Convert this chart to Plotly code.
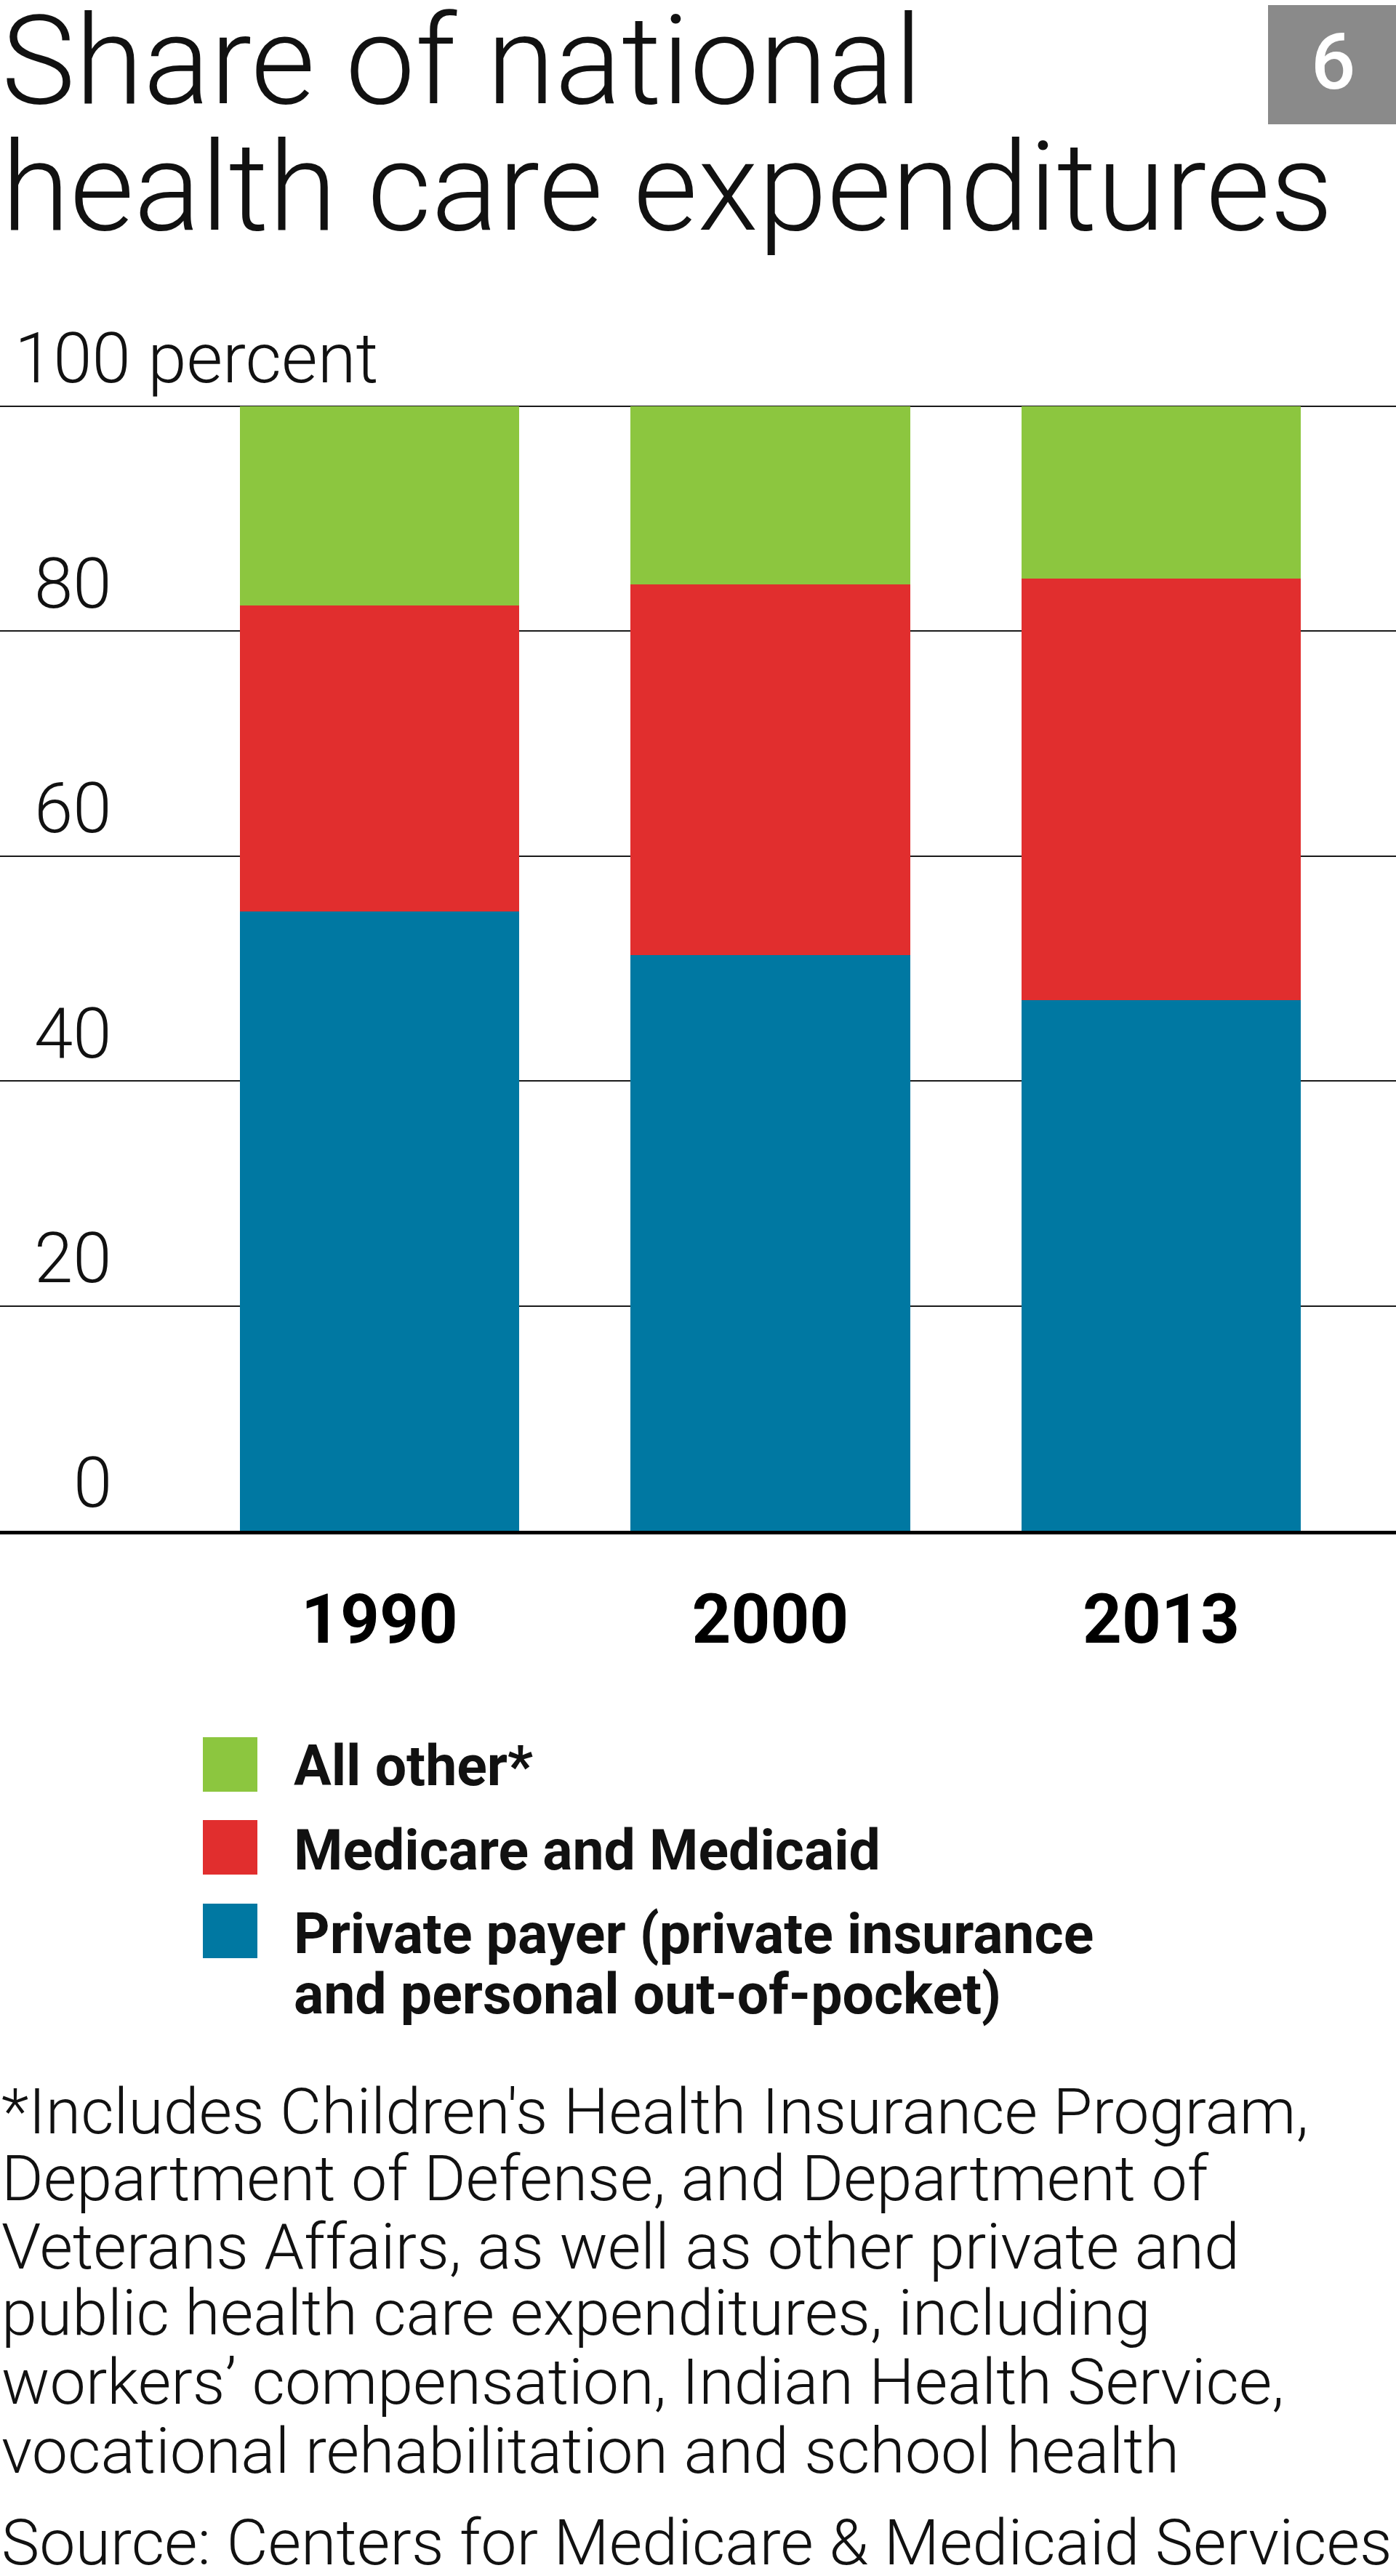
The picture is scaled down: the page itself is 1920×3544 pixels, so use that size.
import plotly.graph_objects as go

W, H = 1920, 3544
FONT = "Roboto"

# ---- data ----
years = ["1990", "2000", "2013"]
series_names = ["Private payer", "Medicare and Medicaid", "All other*"]
private_payer = [55.1, 51.2, 47.2]
medicare_medicaid = [27.2, 33.0, 37.5]
all_other = [17.7, 15.8, 15.3]
series_colors = ["#0078a2", "#e12e2e", "#8cc63f"]

y_tick_vals = [0, 20, 40, 60, 80, 100]
y_tick_text = ["0", "20", "40", "60", "80", "100 percent"]

legend_labels = ["All other*", "Medicare and Medicaid",
                 "Private payer (private insurance<br>and personal out-of-pocket)"]
legend_colors = ["#8cc63f", "#e12e2e", "#0078a2"]

title_lines = ["Share of national", "health care expenditures"]
footnote_lines = [
    "*Includes Children's Health Insurance Program,",
    "Department of Defense, and Department of",
    "Veterans Affairs, as well as other private and",
    "public health care expenditures, including",
    "workers\u2019 compensation, Indian Health Service,",
    "vocational rehabilitation and school health",
]
source_text = "Source: Centers for Medicare & Medicaid Services"
badge_text = "6"


def px_y(p):
    return 1 - p / H


def px_x(p):
    return p / W


fig = go.Figure()
for name, vals, col in zip(series_names, [private_payer, medicare_medicaid, all_other], series_colors):
    fig.add_trace(go.Bar(x=years, y=vals, name=name, marker=dict(color=col, line=dict(width=0)),
                         width=0.716, showlegend=False))

# plot geometry
y_zero_px, y_hundred_px = 2106, 559
unit = (y_zero_px - y_hundred_px) / 100.0
y_top_val = 101
dom_top = px_y(y_zero_px - y_top_val * unit)
dom_bot = px_y(y_zero_px)

annotations = []
shapes = []

# y tick labels
for v, t in zip(y_tick_vals, y_tick_text):
    fs = 96
    if v == 100:
        annotations.append(dict(x=px_x(18), xref="paper", xanchor="left", y=v, yref="y",
                                yanchor="bottom", yshift=32 - 0.244 * fs - 1, text=t, showarrow=False,
                                font=dict(family=FONT, size=fs, color="#111", weight=300)))
    else:
        annotations.append(dict(x=px_x(156), xref="paper", xanchor="right", y=v, yref="y",
                                yanchor="bottom", yshift=32 - 0.244 * fs - 1, text=t, showarrow=False,
                                font=dict(family=FONT, size=fs, color="#111", weight=300)))


def ann_base(text, x, baseline, size, weight=400, color="#111", anchor="left"):
    annotations.append(dict(x=px_x(x), xref="paper", xanchor=anchor,
                            y=px_y(baseline + 0.244 * size + 1), yref="paper", yanchor="bottom",
                            text=text, showarrow=False, align="left",
                            font=dict(family=FONT, size=size, color=color, weight=weight)))


# title
ann_base(title_lines[0], 0, 143.5, 171, weight=300)
ann_base(title_lines[1], 0, 317, 171, weight=300)

# badge
shapes.append(dict(type="rect", xref="paper", yref="paper", x0=px_x(1744), x1=1,
                   y0=px_y(171), y1=px_y(7), fillcolor="#8a8a8a", line=dict(width=0)))
annotations.append(dict(x=px_x(1833), xref="paper", xanchor="center", y=px_y(85), yref="paper",
                        yanchor="middle", text=badge_text, showarrow=False,
                        font=dict(family=FONT, size=108, color="white", weight=500)))

# legend
sw_tops = [2390, 2504, 2619]
legend_baselines = [2457, 2573, 2688]
for lab, col, top, base in zip(legend_labels, legend_colors, sw_tops, legend_baselines):
    shapes.append(dict(type="rect", xref="paper", yref="paper", x0=px_x(279), x1=px_x(354),
                       y0=px_y(top + 75), y1=px_y(top), fillcolor=col, line=dict(width=0)))
    lines = lab.split("<br>")
    for i, ln in enumerate(lines):
        ann_base("<b>" + ln + "</b>", 402, base + i * 83, 77, weight=700)

# footnote
foot_baselines = [2936, 3028, 3122, 3213, 3308, 3403]
for ln, b in zip(footnote_lines, foot_baselines):
    ann_base(ln, 0, b, 88, weight=300)
ann_base(source_text, 0, 3529, 88, weight=300)

fig.update_layout(
    width=W, height=H, margin=dict(l=0, r=0, t=0, b=0),
    paper_bgcolor="white", plot_bgcolor="white",
    barmode="stack", bargap=0,
    showlegend=False,
    annotations=annotations, shapes=shapes,
    xaxis=dict(range=[-0.971, 2.601], showgrid=False, zeroline=False,
               showline=True, linecolor="#000", linewidth=5,
               ticks="", ticklabelstandoff=36,
               tickfont=dict(family=FONT, size=94, color="#000", weight=700),
               fixedrange=True),
    yaxis=dict(domain=[dom_bot, dom_top], range=[0, y_top_val], tickvals=y_tick_vals,
               showticklabels=False, showgrid=True, gridcolor="#1a1a1a", gridwidth=2,
               zeroline=False, showline=False, ticks="", fixedrange=True),
)

fig.write_html("out.html", config={"displayModeBar": False},
               post_script="document.body.style.margin='0';document.body.style.padding='0';")
